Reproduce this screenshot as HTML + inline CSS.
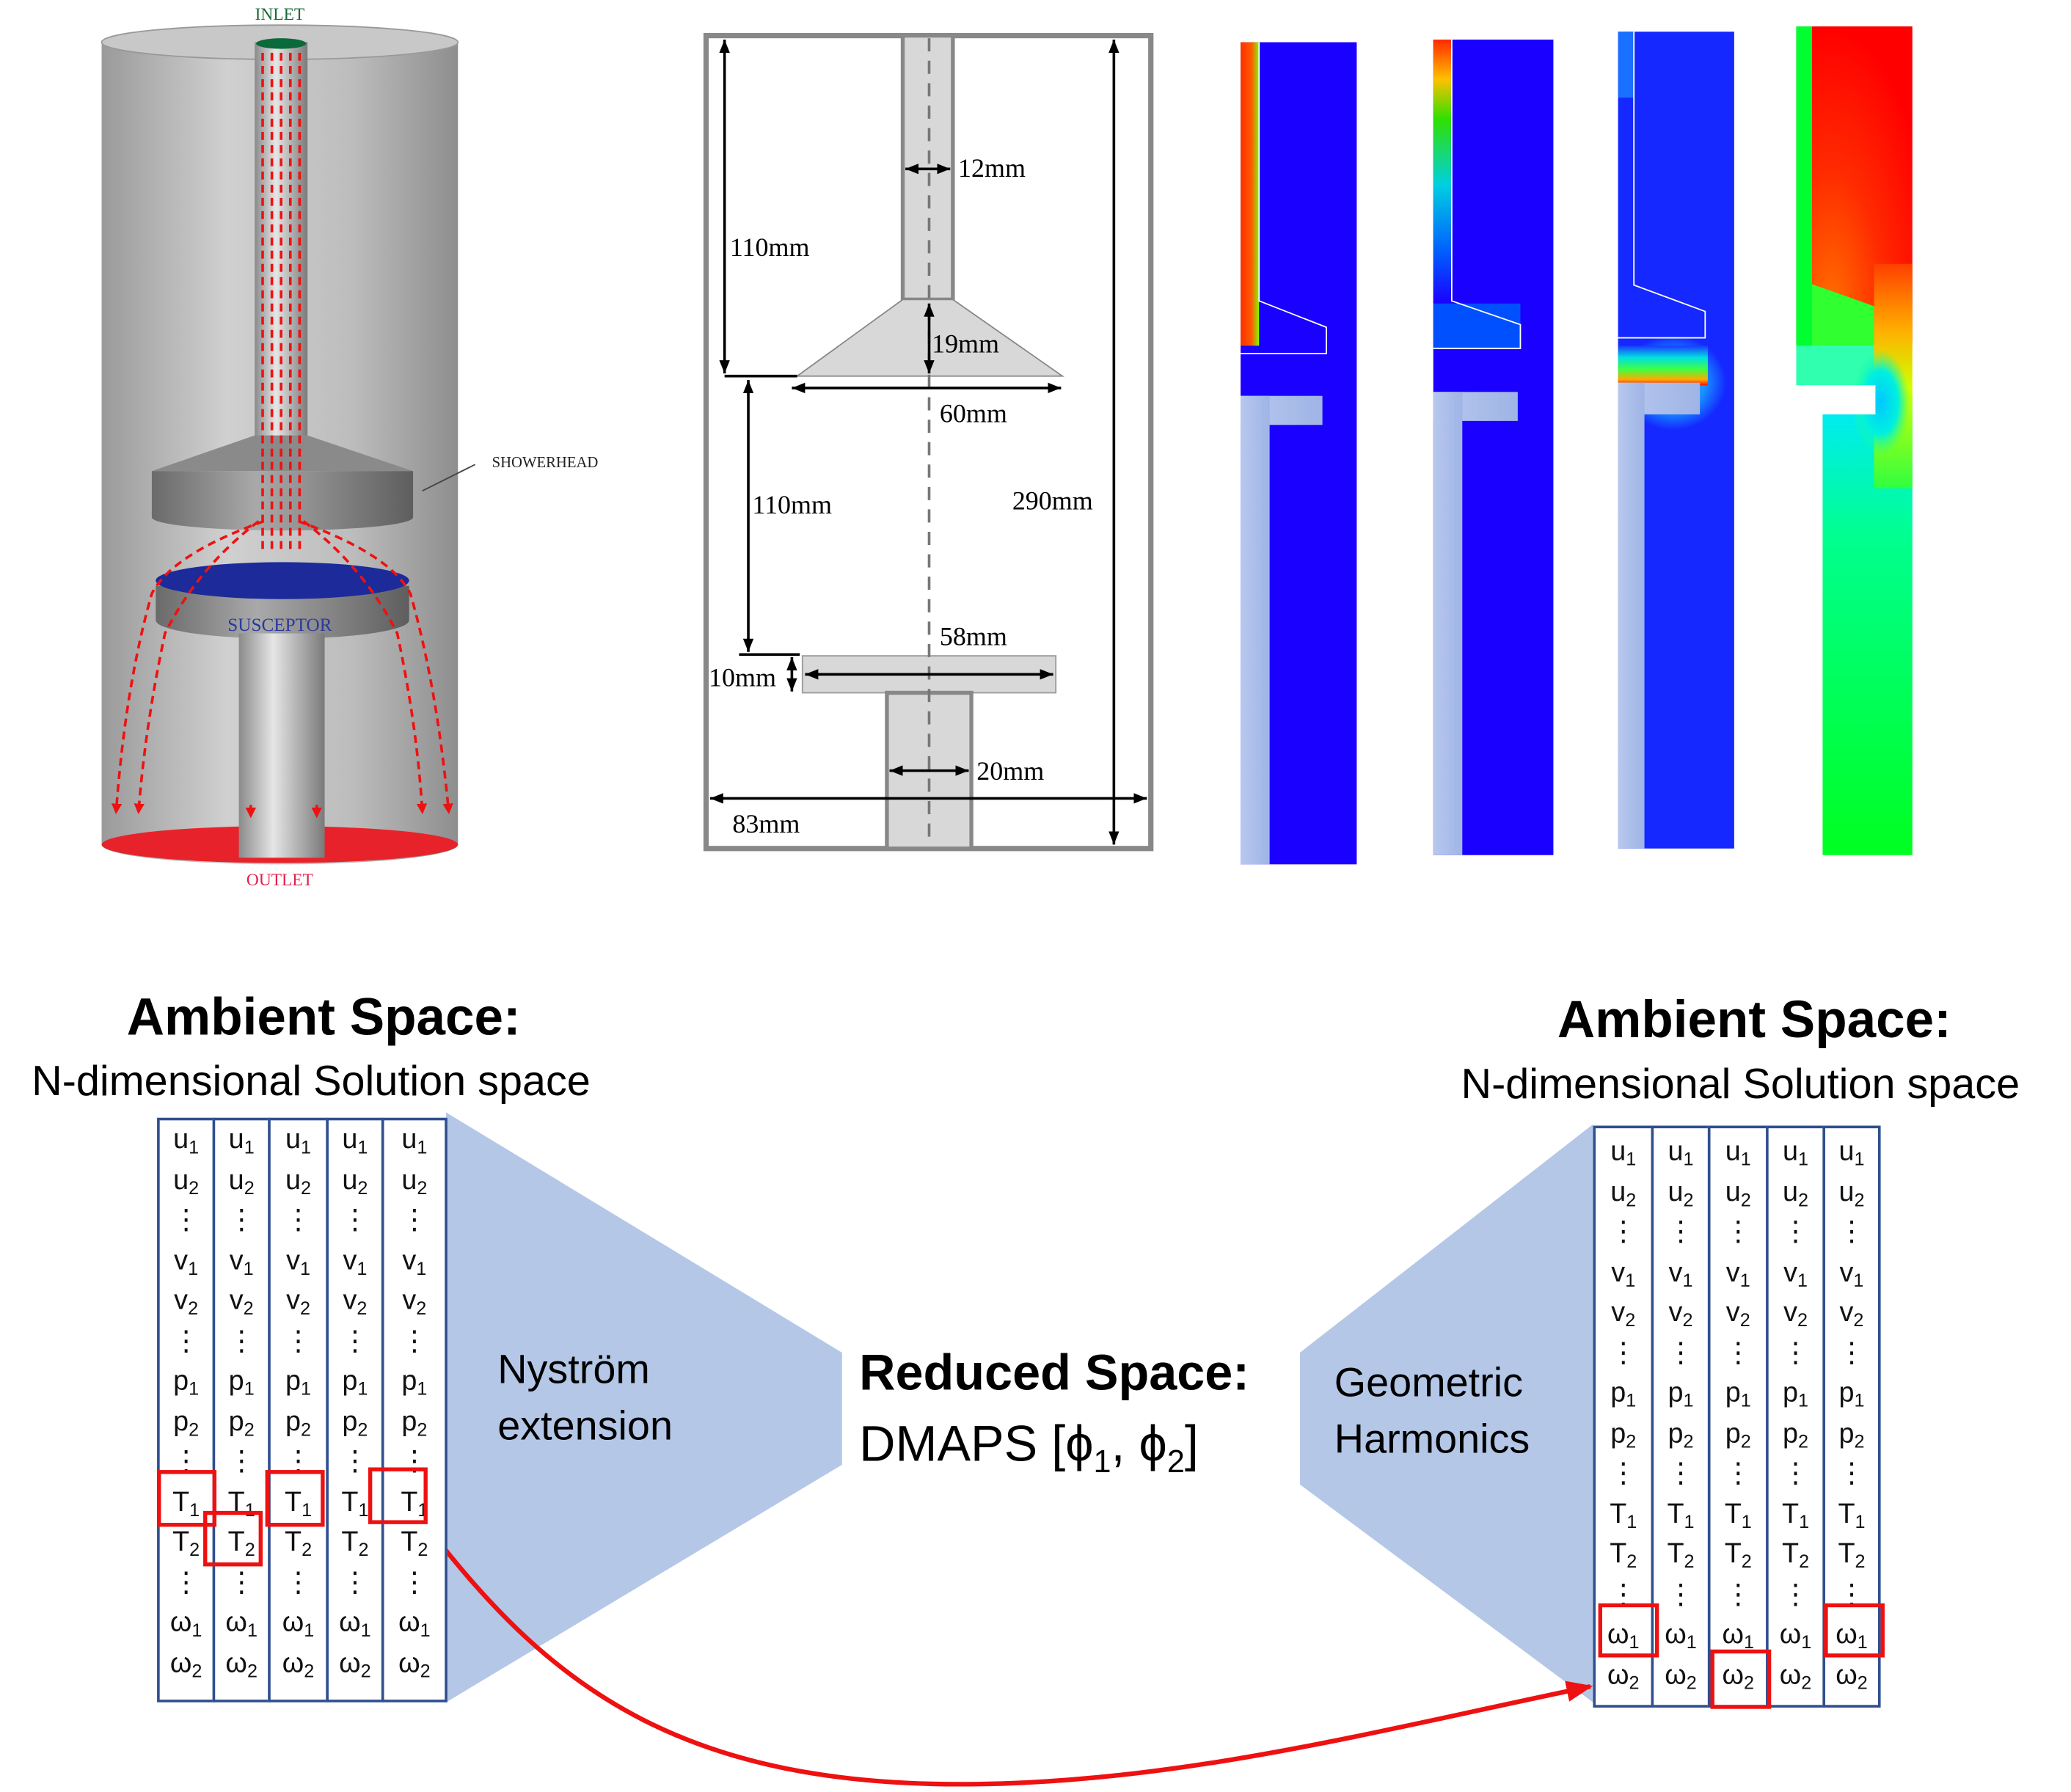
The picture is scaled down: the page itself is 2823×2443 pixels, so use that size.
<!DOCTYPE html>
<html><head><meta charset="utf-8"><style>
html,body{margin:0;padding:0;background:#fff;width:2823px;height:2442px;overflow:hidden}
#root{position:absolute;left:0;top:0;width:1570px;height:1358px;transform:scale(1.799);transform-origin:0 0;font-family:"Liberation Sans","DejaVu Sans",sans-serif}
svg{position:absolute;left:0;top:0}
.col{position:absolute;border:2px solid #2f4f8f;box-sizing:border-box;background:#fff}
.col div{height:30.5px;line-height:30.5px;text-align:center;font-size:21px;color:#111}
.col sub{font-size:14px;vertical-align:-4px;line-height:0}
.rb{position:absolute;border:3px solid #e11;box-sizing:border-box}
.t{position:absolute;white-space:nowrap;color:#000}
</style></head><body><div id="root">
<svg width="1570" height="1358" viewBox="0 0 1570 1358">
<defs>
<linearGradient id="cyl" x1="0" x2="1"><stop offset="0" stop-color="#9a9a9a"/><stop offset=".35" stop-color="#d0d0d0"/><stop offset=".7" stop-color="#bdbdbd"/><stop offset="1" stop-color="#8e8e8e"/></linearGradient>
<linearGradient id="dk" x1="0" x2="1"><stop offset="0" stop-color="#6a6a6a"/><stop offset=".4" stop-color="#a9a9a9"/><stop offset="1" stop-color="#5e5e5e"/></linearGradient>
<linearGradient id="stem" x1="0" x2="1"><stop offset="0" stop-color="#8a8a8a"/><stop offset=".4" stop-color="#e6e6e6"/><stop offset="1" stop-color="#7a7a7a"/></linearGradient>
<linearGradient id="lb" x1="0" x2="1"><stop offset="0" stop-color="#b8c8ee"/><stop offset="1" stop-color="#9fb4e6"/></linearGradient>
<linearGradient id="p1" x1="0" x2="1"><stop offset="0" stop-color="#ff3000"/><stop offset=".6" stop-color="#ff5a00"/><stop offset="1" stop-color="#7fff00"/></linearGradient>
<linearGradient id="p2" x1="0" y1="0" x2="0" y2="1"><stop offset="0" stop-color="#ff2a00"/><stop offset=".15" stop-color="#ffc000"/><stop offset=".3" stop-color="#30e000"/><stop offset=".55" stop-color="#00d0e0"/><stop offset=".8" stop-color="#0060ff"/><stop offset="1" stop-color="#1a00ff"/></linearGradient>
<linearGradient id="p3h" x1="0" y1="0" x2="0" y2="1"><stop offset="0" stop-color="#1a3aff"/><stop offset=".3" stop-color="#00e0e0"/><stop offset=".6" stop-color="#40ff40"/><stop offset=".85" stop-color="#ffaa00"/><stop offset="1" stop-color="#ff1000"/></linearGradient>
<linearGradient id="p4" x1="0" y1="0" x2="0" y2="1"><stop offset="0" stop-color="#00e8ff"/><stop offset=".3" stop-color="#00ff90"/><stop offset="1" stop-color="#00ff20"/></linearGradient>
<linearGradient id="p4s" x1="0" y1="0" x2="0" y2="1"><stop offset="0" stop-color="#ff4000"/><stop offset=".3" stop-color="#ffb000"/><stop offset=".55" stop-color="#d0ff00"/><stop offset="1" stop-color="#30ff40"/></linearGradient>
<radialGradient id="p4r" cx=".3" cy=".9" r=".9"><stop offset="0" stop-color="#ff7000"/><stop offset=".5" stop-color="#ff2a00"/><stop offset="1" stop-color="#ff0000"/></radialGradient>
<radialGradient id="p3g" cx=".5" cy=".5" r=".5"><stop offset="0" stop-color="#10d0ff"/><stop offset=".6" stop-color="#1890ff"/><stop offset="1" stop-color="#1428ff"/></radialGradient>
<radialGradient id="p4n" cx=".5" cy=".5" r=".5"><stop offset="0" stop-color="#00c8ff"/><stop offset=".6" stop-color="#00f0e0"/><stop offset="1" stop-color="#20ff90" stop-opacity="0"/></radialGradient>
<marker id="ah" markerUnits="userSpaceOnUse" markerWidth="10" markerHeight="8" refX="10" refY="4" orient="auto-start-reverse"><path d="M0,0 L10,4 L0,8 z" fill="#000"/></marker>
<marker id="ahr" markerUnits="userSpaceOnUse" markerWidth="20" markerHeight="16" refX="18" refY="8" orient="auto"><path d="M0,0 L20,8 L0,16 z" fill="#e11"/></marker>
<marker id="ahb" markerUnits="userSpaceOnUse" markerWidth="8" markerHeight="8" refX="6" refY="4" orient="auto"><path d="M0,0 L8,4 L0,8 z" fill="#e11"/></marker>
</defs>
<path d="M77,32 L77,640 A135,15 0 0 0 347,640 L347,32 z" fill="url(#cyl)"/>
<ellipse cx="212" cy="32" rx="135" ry="13" fill="#c8c8c8" stroke="#999"/>
<ellipse cx="212" cy="640" rx="135" ry="14" fill="#e8222a"/>
<rect x="193" y="32" width="40" height="300" fill="url(#stem)"/>
<ellipse cx="213" cy="33" rx="19" ry="4" fill="#0a6a3a"/>
<path d="M193,330 L233,330 L313,357 L115,357 z" fill="#8a8a8a"/>
<path d="M115,357 L313,357 L313,392 A99,10 0 0 1 115,392 z" fill="url(#dk)"/>
<path d="M118,444 L310,444 L310,470 A96,14 0 0 1 118,470 z" fill="url(#dk)"/>
<ellipse cx="214" cy="440" rx="96" ry="14" fill="#1c2a9a"/>
<rect x="181" y="480" width="65" height="170" fill="url(#stem)"/>
<g stroke="#e11" stroke-width="2" stroke-dasharray="6,4" fill="none">
<path d="M199,40 V420"/><path d="M206,40 V420"/><path d="M213,40 V420"/><path d="M220,40 V420"/><path d="M227,40 V420"/>
<path d="M200,395 Q130,420 115,450 Q95,520 88,615" marker-end="url(#ahb)"/>
<path d="M196,395 Q150,430 125,480 Q110,550 105,615" marker-end="url(#ahb)"/>
<path d="M226,395 Q296,420 311,450 Q331,520 340,615" marker-end="url(#ahb)"/>
<path d="M230,395 Q276,430 301,480 Q316,550 320,615" marker-end="url(#ahb)"/>
<path d="M190,610 V618" marker-end="url(#ahb)"/><path d="M240,610 V618" marker-end="url(#ahb)"/>
</g>
<line x1="320" y1="372" x2="360" y2="352" stroke="#444"/>
<g font-family="Liberation Serif,serif" font-size="13" text-anchor="middle">
<text x="212" y="15" fill="#1a6a3a">INLET</text>
<text x="413" y="354" font-size="11.5" fill="#222">SHOWERHEAD</text>
<text x="212" y="478" font-size="14" fill="#2a3a9a">SUSCEPTOR</text>
<text x="212" y="671" fill="#e0204a">OUTLET</text>
</g>
<rect x="535" y="27" width="337" height="616" fill="#fff" stroke="#888" stroke-width="4"/>
<rect x="684" y="27" width="38" height="200" fill="#d8d8d8" stroke="#888" stroke-width="3"/>
<path d="M684,227 L722,227 L805,285 L604,285 z" fill="#d8d8d8" stroke="#888"/>
<rect x="608" y="497" width="192" height="28" fill="#d8d8d8" stroke="#999"/>
<rect x="672" y="525" width="64" height="118" fill="#d8d8d8" stroke="#888" stroke-width="3"/>
<line x1="704" y1="29" x2="704" y2="641" stroke="#777" stroke-width="2" stroke-dasharray="10,7"/>
<g stroke="#000" stroke-width="2" fill="none">
<line x1="549" y1="30" x2="549" y2="283" marker-start="url(#ah)" marker-end="url(#ah)"/>
<line x1="549" y1="285" x2="604" y2="285"/>
<line x1="567" y1="288" x2="567" y2="494" marker-start="url(#ah)" marker-end="url(#ah)"/>
<line x1="560" y1="496" x2="606" y2="496"/>
<line x1="600" y1="498" x2="600" y2="524" marker-start="url(#ah)" marker-end="url(#ah)"/>
<line x1="844" y1="30" x2="844" y2="640" marker-start="url(#ah)" marker-end="url(#ah)"/>
<line x1="538" y1="605" x2="869" y2="605" marker-start="url(#ah)" marker-end="url(#ah)"/>
<line x1="686" y1="128" x2="720" y2="128" marker-start="url(#ah)" marker-end="url(#ah)"/>
<line x1="704" y1="230" x2="704" y2="283" marker-start="url(#ah)" marker-end="url(#ah)"/>
<line x1="600" y1="294" x2="804" y2="294" marker-start="url(#ah)" marker-end="url(#ah)"/>
<line x1="610" y1="511" x2="798" y2="511" marker-start="url(#ah)" marker-end="url(#ah)"/>
<line x1="674" y1="584" x2="734" y2="584" marker-start="url(#ah)" marker-end="url(#ah)"/>
</g>
<g font-family="Liberation Serif,serif" font-size="20" fill="#000">
<text x="726" y="134">12mm</text><text x="553" y="194">110mm</text><text x="706" y="267">19mm</text>
<text x="712" y="320">60mm</text><text x="570" y="389">110mm</text><text x="767" y="386">290mm</text>
<text x="712" y="489">58mm</text><text x="537" y="520">10mm</text><text x="740" y="591">20mm</text><text x="555" y="631">83mm</text>
</g>
<rect x="940" y="32" width="88" height="623" fill="#1a00ff"/>
<rect x="940" y="32" width="14" height="230" fill="url(#p1)"/>
<path d="M954,32 V228 L1005,248 V268 H940" fill="none" stroke="#fff"/>
<rect x="940" y="300" width="62" height="22" fill="url(#lb)"/><rect x="940" y="300" width="22" height="355" fill="url(#lb)"/>
<rect x="1086" y="30" width="91" height="618" fill="#1a00ff"/>
<rect x="1086" y="30" width="14" height="200" fill="url(#p2)"/>
<rect x="1086" y="230" width="66" height="34" fill="#0050ff"/>
<path d="M1100,30 V228 L1152,246 V264 H1086" fill="none" stroke="#fff"/>
<rect x="1086" y="297" width="64" height="22" fill="url(#lb)"/><rect x="1086" y="297" width="22" height="351" fill="url(#lb)"/>
<rect x="1226" y="24" width="88" height="619" fill="#1428ff"/>
<ellipse cx="1268" cy="290" rx="40" ry="36" fill="url(#p3g)"/>
<rect x="1226" y="24" width="12" height="50" fill="#1a70ff"/>
<rect x="1226" y="262" width="68" height="30" fill="url(#p3h)"/>
<path d="M1238,24 V216 L1292,236 V256 H1226" fill="none" stroke="#fff"/>
<rect x="1226" y="290" width="62" height="24" fill="url(#lb)"/><rect x="1226" y="290" width="20" height="353" fill="url(#lb)"/>
<rect x="1381" y="300" width="68" height="348" fill="url(#p4)"/>
<rect x="1361" y="20" width="88" height="240" fill="url(#p4r)"/>
<path d="M1372,20 V215 L1420,232 V262 H1361 Z" fill="#30ff30"/>
<rect x="1361" y="20" width="12" height="245" fill="#00ff30"/>
<rect x="1361" y="262" width="62" height="30" fill="#30ffb0"/>
<rect x="1420" y="200" width="29" height="170" fill="url(#p4s)"/>
<ellipse cx="1425" cy="305" rx="22" ry="40" fill="url(#p4n)"/>
<rect x="1361" y="292" width="60" height="22" fill="#fff"/>
<polygon points="338,843 638,1025 638,1110 338,1290" fill="#b4c7e7"/>
<polygon points="1207,852 985,1025 985,1125 1207,1290" fill="#b4c7e7"/>
<path d="M330,1165 C420,1280 520,1355 740,1352 C900,1350 1050,1310 1205,1278" fill="none" stroke="#e11" stroke-width="3.5" marker-end="url(#ahr)"/>
<circle cx="330" cy="1165" r="6" fill="#e11"/>
</svg>
<div class="t" style="left:96px;top:749px;font-size:39.5px;font-weight:bold">Ambient Space:</div>
<div class="t" style="left:24px;top:801px;font-size:32px">N-dimensional Solution space</div>
<div class="t" style="left:1180px;top:751px;font-size:39.5px;font-weight:bold">Ambient Space:</div>
<div class="t" style="left:1107px;top:803px;font-size:32px">N-dimensional Solution space</div>
<div class="t" style="left:377px;top:1016px;font-size:31px;line-height:43px">Nyström<br>extension</div>
<div class="t" style="left:1011px;top:1026px;font-size:31px;line-height:43px">Geometric<br>Harmonics</div>
<div class="t" style="left:651px;top:1020px;font-size:38px;font-weight:bold">Reduced Space:</div>
<div class="t" style="left:651px;top:1074px;font-size:38px">DMAPS [ϕ<sub style="font-size:24px">1</sub>, ϕ<sub style="font-size:24px">2</sub>]</div>

<div class="col" style="left:119px;top:847px;width:44px;height:443px"><div>u<sub>1</sub></div><div>u<sub>2</sub></div><div>⋮</div><div>v<sub>1</sub></div><div>v<sub>2</sub></div><div>⋮</div><div>p<sub>1</sub></div><div>p<sub>2</sub></div><div>⋮</div><div>T<sub>1</sub></div><div>T<sub>2</sub></div><div>⋮</div><div>ω<sub>1</sub></div><div>ω<sub>2</sub></div></div>
<div class="col" style="left:161px;top:847px;width:44px;height:443px"><div>u<sub>1</sub></div><div>u<sub>2</sub></div><div>⋮</div><div>v<sub>1</sub></div><div>v<sub>2</sub></div><div>⋮</div><div>p<sub>1</sub></div><div>p<sub>2</sub></div><div>⋮</div><div>T<sub>1</sub></div><div>T<sub>2</sub></div><div>⋮</div><div>ω<sub>1</sub></div><div>ω<sub>2</sub></div></div>
<div class="col" style="left:203px;top:847px;width:46px;height:443px"><div>u<sub>1</sub></div><div>u<sub>2</sub></div><div>⋮</div><div>v<sub>1</sub></div><div>v<sub>2</sub></div><div>⋮</div><div>p<sub>1</sub></div><div>p<sub>2</sub></div><div>⋮</div><div>T<sub>1</sub></div><div>T<sub>2</sub></div><div>⋮</div><div>ω<sub>1</sub></div><div>ω<sub>2</sub></div></div>
<div class="col" style="left:247px;top:847px;width:44px;height:443px"><div>u<sub>1</sub></div><div>u<sub>2</sub></div><div>⋮</div><div>v<sub>1</sub></div><div>v<sub>2</sub></div><div>⋮</div><div>p<sub>1</sub></div><div>p<sub>2</sub></div><div>⋮</div><div>T<sub>1</sub></div><div>T<sub>2</sub></div><div>⋮</div><div>ω<sub>1</sub></div><div>ω<sub>2</sub></div></div>
<div class="col" style="left:289px;top:847px;width:50px;height:443px"><div>u<sub>1</sub></div><div>u<sub>2</sub></div><div>⋮</div><div>v<sub>1</sub></div><div>v<sub>2</sub></div><div>⋮</div><div>p<sub>1</sub></div><div>p<sub>2</sub></div><div>⋮</div><div>T<sub>1</sub></div><div>T<sub>2</sub></div><div>⋮</div><div>ω<sub>1</sub></div><div>ω<sub>2</sub></div></div>
<div class="rb" style="left:119px;top:1114px;width:45px;height:43px"></div>
<div class="rb" style="left:154px;top:1145px;width:45px;height:42px"></div>
<div class="rb" style="left:201px;top:1114px;width:45px;height:43px"></div>
<div class="rb" style="left:279px;top:1112px;width:45px;height:43px"></div>

<div class="col" style="left:1207px;top:853px;width:46px;height:441px;padding-top:3px"><div>u<sub>1</sub></div><div>u<sub>2</sub></div><div>⋮</div><div>v<sub>1</sub></div><div>v<sub>2</sub></div><div>⋮</div><div>p<sub>1</sub></div><div>p<sub>2</sub></div><div>⋮</div><div>T<sub>1</sub></div><div>T<sub>2</sub></div><div>⋮</div><div>ω<sub>1</sub></div><div>ω<sub>2</sub></div></div>
<div class="col" style="left:1251px;top:853px;width:45px;height:441px;padding-top:3px"><div>u<sub>1</sub></div><div>u<sub>2</sub></div><div>⋮</div><div>v<sub>1</sub></div><div>v<sub>2</sub></div><div>⋮</div><div>p<sub>1</sub></div><div>p<sub>2</sub></div><div>⋮</div><div>T<sub>1</sub></div><div>T<sub>2</sub></div><div>⋮</div><div>ω<sub>1</sub></div><div>ω<sub>2</sub></div></div>
<div class="col" style="left:1294px;top:853px;width:46px;height:441px;padding-top:3px"><div>u<sub>1</sub></div><div>u<sub>2</sub></div><div>⋮</div><div>v<sub>1</sub></div><div>v<sub>2</sub></div><div>⋮</div><div>p<sub>1</sub></div><div>p<sub>2</sub></div><div>⋮</div><div>T<sub>1</sub></div><div>T<sub>2</sub></div><div>⋮</div><div>ω<sub>1</sub></div><div>ω<sub>2</sub></div></div>
<div class="col" style="left:1338px;top:853px;width:45px;height:441px;padding-top:3px"><div>u<sub>1</sub></div><div>u<sub>2</sub></div><div>⋮</div><div>v<sub>1</sub></div><div>v<sub>2</sub></div><div>⋮</div><div>p<sub>1</sub></div><div>p<sub>2</sub></div><div>⋮</div><div>T<sub>1</sub></div><div>T<sub>2</sub></div><div>⋮</div><div>ω<sub>1</sub></div><div>ω<sub>2</sub></div></div>
<div class="col" style="left:1381px;top:853px;width:44px;height:441px;padding-top:3px"><div>u<sub>1</sub></div><div>u<sub>2</sub></div><div>⋮</div><div>v<sub>1</sub></div><div>v<sub>2</sub></div><div>⋮</div><div>p<sub>1</sub></div><div>p<sub>2</sub></div><div>⋮</div><div>T<sub>1</sub></div><div>T<sub>2</sub></div><div>⋮</div><div>ω<sub>1</sub></div><div>ω<sub>2</sub></div></div>
<div class="rb" style="left:1211px;top:1215px;width:46px;height:41px"></div>
<div class="rb" style="left:1296px;top:1250px;width:46px;height:45px"></div>
<div class="rb" style="left:1382px;top:1215px;width:46px;height:41px"></div>
</div></body></html>
